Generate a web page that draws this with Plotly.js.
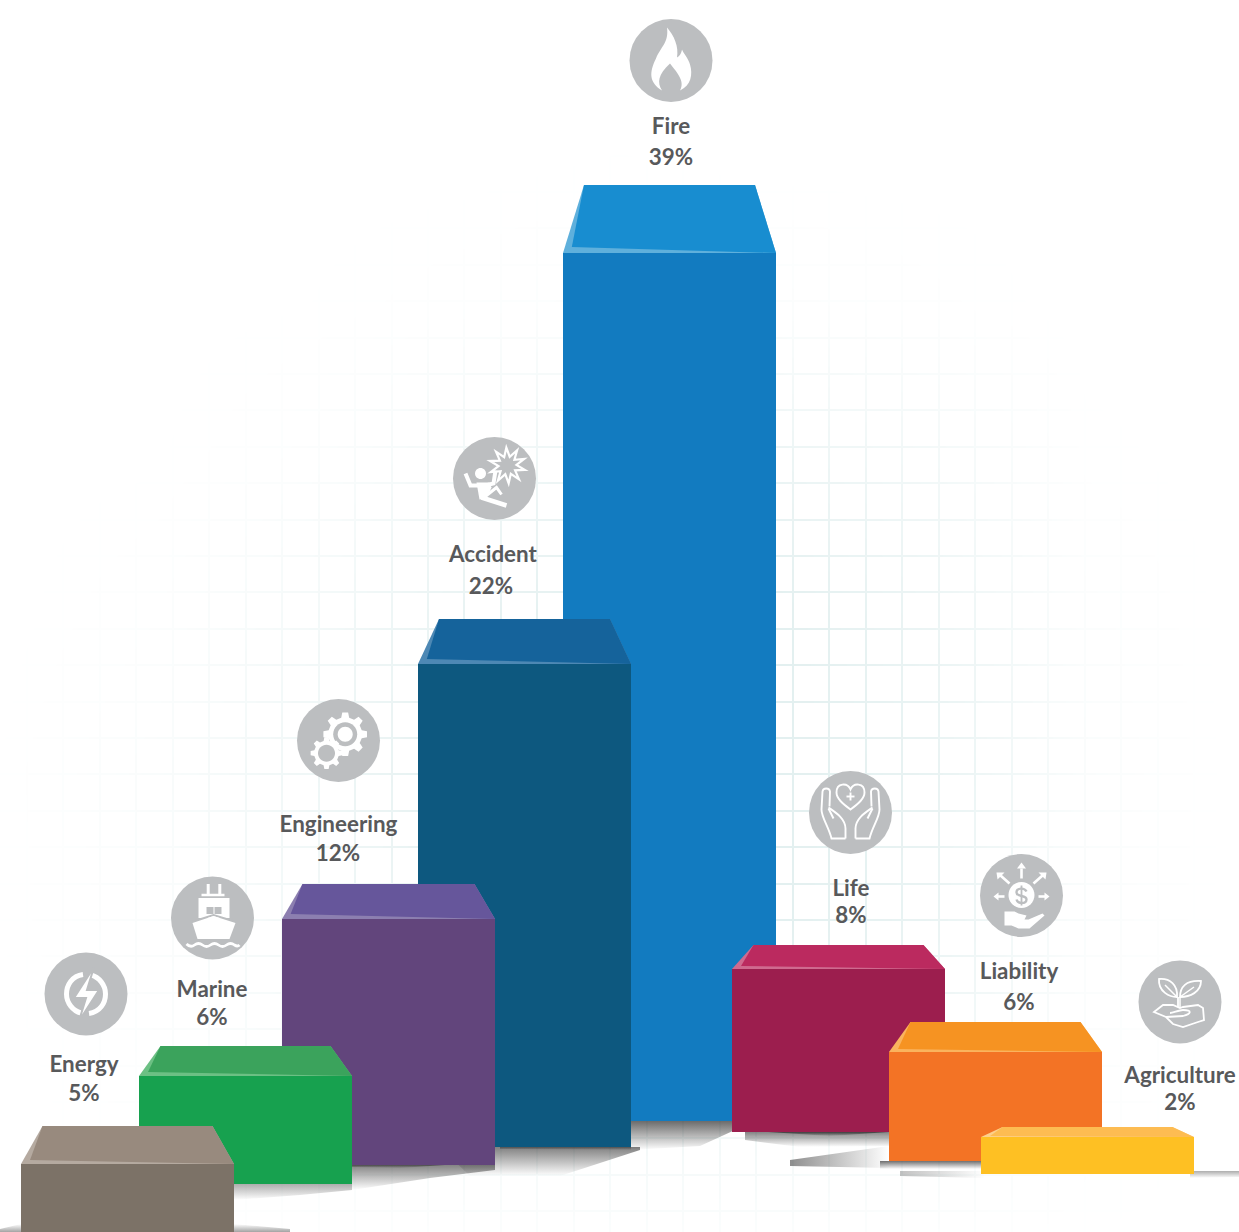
<!DOCTYPE html>
<html>
<head>
<meta charset="utf-8">
<script src="https://cdn.plot.ly/plotly-3.0.1.min.js"></script>
<style>html,body{margin:0;padding:0;background:#fff;overflow:hidden}#chart{width:1239px;height:1232px}</style>
</head>
<body>
<div id="chart"></div>
<script>
// ---- chart content ----
const categories = ['Fire','Accident','Engineering','Marine','Energy','Life','Liability','Agriculture'];
const shareLabels = ['39%','22%','12%','6%','5%','8%','6%','2%'];
// Bar front heights (reference pixels, the axis unit)
const barHeights = [868,483,246,108,92,163,109,37];

// ---- placement on the reference-pixel axes ----
const barCenters = [669.5,524.5,388.5,245.5,127.5,838.5,995.5,1087.5];
const barTops    = [253,664,919,1076,1164,969,1052,1137];
const barWidth   = 213;
const backTops   = [185,619,884,1046,1126,945,1022,1127];
const backInset  = [21,21,20.5,21.5,21.5,21.5,21.5,21.5];
const hlDrop     = [6,5,5,4,4,3,3,1];

// ---- styles ----
const frontColors = ['#127bc0','#0d587f','#62457c','#17a14f','#7c7267','#9c1e4e','#f37325','#fec023'];
const topColors   = ['#188dd0','#15639b','#66569b','#3ba35c','#988a7e','#bb2a5f','#f69322','#fdbc52'];
const hlColors    = ['#5fb0dc','#4d88b4','#8c7fb0','#6cc084','#b5aaa0','#cf6a8f','#fab35e','#fdd08a'];

const nameX = [671,493,338.5,212,84,851,1019,1180];
const nameY = [128,556,826,991,1066,890,973,1077];
const pctX  = [671,491,338,212,84,851,1019,1180];
const pctY  = [159,588,855,1019,1095,917,1004,1104];
const iconX = [671,494.5,338.5,212.5,86,850.5,1021.5,1180];
const iconY = [60.5,478.5,740.5,918,994,812.5,895.5,1002];

// White veil over the axis grid: 1 hides it, 0 shows it in full
const veilX = [0,155,310,465,620,775,930,1085,1239];
const veilY = [0,154,308,462,616,770,924,1078,1232];
const veilZ = [
 [1,1,1,1,1,1,1,1,1],
 [1,1,1,1,.97,1,1,1,1],
 [1,1,.97,.9,.85,.85,.92,1,1],
 [1,.98,.85,.55,.3,.3,.55,.95,1],
 [1,.88,.6,.2,0,0,.3,.85,1],
 [.97,.78,.45,.05,0,0,.2,.8,1],
 [.97,.82,.55,.15,0,0,.25,.82,1],
 [1,.9,.75,.5,.4,.4,.5,.88,1],
 [1,.98,.92,.88,.85,.85,.88,.97,1]
];

// Ground shadows: outline x, outline y, strength, gradient direction
const shadows = [
 {x:[631,735,735,700,631],y:[1121,1121,1130,1146,1150],a:.72,t:'vertical',rev:false},
 {x:[440,640,640,560,470],y:[1147,1147,1150,1176,1176],a:.62,t:'vertical',rev:false},
 {x:[352,495,495,430,352],y:[1165,1165,1170,1178,1190],a:.6,t:'vertical',rev:false},
 {x:[234,352,352,300,234],y:[1184,1184,1190,1195,1200],a:.4,t:'vertical',rev:false},
 {x:[745,889,889,800,745],y:[1132,1132,1146,1147,1140],a:.6,t:'vertical',rev:false},
 {x:[790,889,889,790],y:[1160,1146,1168,1166],a:.55,t:'horizontal',rev:true},
 {x:[880,985,985,880],y:[1161,1161,1169,1169],a:.7,t:'vertical',rev:false},
 {x:[1190,1239,1239,1190],y:[1171,1171,1177,1178],a:.4,t:'vertical',rev:false},
 {x:[900,985,985,900],y:[1171,1171,1178,1176],a:.3,t:'horizontal',rev:true},
 {x:[234,290,290,234],y:[1224,1229,1232,1232],a:.45,t:'vertical',rev:true},
 {x:[0,21,21,0],y:[1229,1224,1232,1232],a:.45,t:'vertical',rev:true},
 // thin contact lenses
 {x:[352,400,445,400,352],y:[1165,1165,1165,1168,1167],a:.7,t:'vertical',rev:false},
 {x:[768,830,889,830],y:[1132,1132,1132,1136],a:.85,t:'vertical',rev:false},
 {x:[500,631,631,500],y:[1147,1147,1150,1149],a:.6,t:'vertical',rev:false}
];

const traces = [];
traces.push({type:'heatmap',x:veilX,y:veilY,z:veilZ,zmin:0,zmax:1,zsmooth:'best',showscale:false,hoverinfo:'skip',
  colorscale:[[0,'rgba(255,255,255,0)'],[1,'rgba(255,255,255,1)']]});

shadows.forEach(s=>{
  const dark=`rgba(50,50,50,${s.a})`, clear='rgba(50,50,50,0)';
  traces.push({type:'scatter',mode:'lines',x:s.x.concat(s.x[0]),y:s.y.concat(s.y[0]),fill:'toself',
    line:{width:0,color:'rgba(0,0,0,0)'},hoverinfo:'skip',showlegend:false,zorder:1,
    fillgradient:{type:s.t,colorscale:s.rev?[[0,dark],[1,clear]]:[[0,clear],[1,dark]]}});
});

traces.push({type:'bar',x:barCenters,y:barHeights,base:barTops,width:barWidth,
  marker:{color:frontColors,line:{width:0}},text:categories,textposition:'none',hoverinfo:'skip',showlegend:false,zorder:2});

categories.forEach((c,i)=>{
  const l=barCenters[i]-barWidth/2, r=barCenters[i]+barWidth/2, t=barTops[i], b=backTops[i], d=backInset[i];
  traces.push({type:'scatter',mode:'lines',x:[l,l+d,r-d,r,l],y:[t,b,b,t,t],fill:'toself',fillcolor:hlColors[i],
    line:{width:0},hoverinfo:'skip',showlegend:false,zorder:3});
  traces.push({type:'scatter',mode:'lines',x:[l+d,r-d,r,l+d*.42,l+d],y:[b,b,t,t-hlDrop[i],b],fill:'toself',fillcolor:topColors[i],
    line:{width:0},hoverinfo:'skip',showlegend:false,zorder:3});
});

traces.push({type:'scatter',mode:'markers',x:iconX,y:iconY,marker:{size:83,color:'#bcbec0',line:{width:0}},
  hoverinfo:'skip',showlegend:false,zorder:4});
const labelFont={family:'Lato, Carlito, sans-serif',size:22.4,color:'#58595b',weight:700};
traces.push({type:'scatter',mode:'text',x:nameX,y:nameY,text:categories,textposition:'middle center',textfont:labelFont,
  hoverinfo:'skip',showlegend:false,zorder:4});
traces.push({type:'scatter',mode:'text',x:pctX,y:pctY,text:shareLabels,textposition:'middle center',textfont:labelFont,
  hoverinfo:'skip',showlegend:false,zorder:4});

// ---- icon drawing helpers (local coordinates around each badge centre) ----
const WHITE='#ffffff', GREY='#bcbec0';
function place(i,d,mirror){
  const cx=iconX[i], cy=iconY[i];
  let isX=true;
  return d.replace(/-?\d*\.?\d+/g,m=>{
    const v=parseFloat(m);
    const o=isX?(cx+(mirror?-v:v)):(cy+v);
    isX=!isX;
    return o.toFixed(2);
  });
}
function circ(x,y,r){const k=r*.5523;
  return `M${x-r},${y} C${x-r},${y-k} ${x-k},${y-r} ${x},${y-r} C${x+k},${y-r} ${x+r},${y-k} ${x+r},${y} C${x+r},${y+k} ${x+k},${y+r} ${x},${y+r} C${x-k},${y+r} ${x-r},${y+k} ${x-r},${y} Z`;}
function ring(x,y,ro,ri,n,rot){let s='';const pts=n*2;for(let k=0;k<pts;k++){const a=rot+k*Math.PI/n,r=k%2?ri:ro;
  s+=(k?'L':'M')+(x+r*Math.cos(a)).toFixed(2)+','+(y+r*Math.sin(a)).toFixed(2)+' ';}return s+'Z';}
function gear(x,y,ro,ri,n){let s='';const st=2*Math.PI/n;for(let k=0;k<n;k++){const a=k*st;
  [[-.30,ri],[-.17,ro],[.17,ro],[.30,ri]].forEach((p,j)=>{const b=a+p[0]*st;
    s+=((k===0&&j===0)?'M':'L')+(x+p[1]*Math.cos(b)).toFixed(2)+','+(y+p[1]*Math.sin(b)).toFixed(2)+' ';});}
  return s+'Z';}
const shapes=[];
function fillS(i,d,c,mirror){shapes.push({type:'path',xref:'x',yref:'y',layer:'above',path:place(i,d,mirror),fillcolor:c||WHITE,line:{width:0}});}
function strokeS(i,d,w,c,mirror){shapes.push({type:'path',xref:'x',yref:'y',layer:'above',path:place(i,d,mirror),fillcolor:'rgba(0,0,0,0)',line:{width:w,color:c||WHITE}});}

// Fire
fillS(0,'M-4,-33 C-2,-18 -10,-14 -15,-2 C-22,12 -22,22 -9,30 C-14,22 -13,14 -1,3 C4,10 15,20 9,30 C20,25 22,14 19,4 C17,-3 13,-6 11,-11 C10,-6 8,-4 6,-3 C8,-14 3,-25 -4,-33 Z');
// Accident
strokeS(1,ring(13,-13,18,9,10,.25),2.2);
fillS(1,circ(-14,-5,5.5));
strokeS(1,'M-29,-5 L-24,7 L-15,7',4);
strokeS(1,'M1,-8 L-1,5 L-9,7',4);
fillS(1,'M-18,4 L-5,4 L-3,9 L-8,20 L-15,21 Z');
strokeS(1,'M-13,19 L12,27',4.5);
strokeS(1,'M-8,17 L2,9 L7,16',3);
// Engineering
fillS(2,gear(6.7,-6.3,22,17,8));
fillS(2,circ(6.7,-6.3,12),GREY);
fillS(2,circ(6.7,-6.3,7.5));
fillS(2,gear(-12,12.7,16,12.5,8));
fillS(2,circ(-12,12.7,8.5),GREY);
// Marine
strokeS(3,'M-4.3,-34 L-4.3,-23',3);
strokeS(3,'M7.3,-34 L7.3,-23',3);
strokeS(3,'M-11,-23 L12,-23',2.5);
fillS(3,'M-14,-20 L17,-20 L17,0 L-14,0 Z');
fillS(3,'M-6,-11 L1,-11 L1,-4 L-6,-4 Z',GREY);
fillS(3,'M2,-11 L9,-11 L9,-4 L2,-4 Z',GREY);
strokeS(3,'M-21,4 L1,-3 L24,4',2,GREY);
fillS(3,'M-20,5 L1,-2 L23,5 L17,21 L-15,21 Z');
strokeS(3,'M-26,26 Q-22,30 -18,27 Q-14,24 -10,27 Q-6,30 -2,27 Q2,24 6,27 Q10,30 14,27 Q18,24 22,27 Q25,29 27,27',2.8);
// Energy
strokeS(4,'M-3,-19.5 C-14,-18 -19.5,-9 -19.5,0 C-19.5,9 -13,17 -5,19',5);
strokeS(4,'M5,-19 C13,-17 19.5,-9 19.5,0 C19.5,9 14,18 3,19.5',5);
shapes.push({type:'path',xref:'x',yref:'y',layer:'above',path:place(4,'M8,-27 L-12,4 L0,4 L-7,27 L13,-4 L1,-4 Z'),fillcolor:WHITE,line:{width:2,color:GREY}});
// Life
strokeS(5,'M0,-3 C-8,-9 -14,-14 -14,-20 C-14,-30 -3,-30 0,-23 C3,-30 14,-30 14,-20 C14,-14 8,-9 0,-3 Z',1.9);
strokeS(5,'M-4,-16 L4,-16',1.9);
strokeS(5,'M0,-20 L0,-12',1.9);
[false,true].forEach(m=>{
  strokeS(5,'M-5,26 L-19,26 C-22,14 -29,5 -29,-3 L-28,-21 C-27.5,-25 -21,-25 -20.5,-21 L-21,-6',1.9,WHITE,m);
  strokeS(5,'M-22,-5 C-15,0 -5,6 -5,16 L-5,26',1.9,WHITE,m);
  strokeS(5,'M-22,-4 L-17,6',1.9,WHITE,m);
});
// Liability
fillS(6,circ(0,-0.5,13));
strokeS(6,'M5,-4 C3,-8 -5,-8 -5,-3 C-5,2 5,-1 5,4 C5,9 -4,8 -5,4',2.4,GREY);
strokeS(6,'M0,-10 L0,10',1.8,GREY);
strokeS(6,'M0,-17 L0,-27',2.6);
fillS(6,'M-4.5,-27 L0,-33 L4.5,-27 Z');
strokeS(6,'M-12,-12 L-21,-20',2.6);
fillS(6,'M-25,-23 L-17,-23 L-24,-16 Z');
strokeS(6,'M12,-12 L21,-20',2.6);
fillS(6,'M25,-23 L17,-23 L24,-16 Z');
strokeS(6,'M-17,1 L-24,1',2.6);
fillS(6,'M-23,-3 L-28,1 L-23,5 Z');
strokeS(6,'M17,1 L24,1',2.6);
fillS(6,'M23,-3 L28,1 L23,5 Z');
fillS(6,'M-17,16 L-7,16 L-3,18 L5,20 L3,24 L-2,24 L7,24 L21,18 L23,20 L8,33 L-3,33 L-10,30 L-17,30 Z');
// Agriculture
strokeS(7,'M-3,-5 C-10,-5 -22,-10 -21,-23 C-10,-24 -2,-17 -3,-5 Z',1.8);
strokeS(7,'M0,-5 C0,-15 6,-22 21,-21 C21,-10 10,-5 0,-5 Z',1.8);
strokeS(7,'M-15,-17 L-3,-5',1.5);
strokeS(7,'M14,-15 L0,-5',1.5);
strokeS(7,'M-2,-5 L-2,5',1.8);
strokeS(7,'M0,-5 L0,5',1.5);
strokeS(7,'M-26,10 L-17,3 L-7,3 L0,6 L3,5 L18,3 L23,6 L24,18 L18,20 L3,25 L-7,22 L-14,15 L-26,10 Z',1.8);
strokeS(7,'M-14,15 L3,14 C11,12 13,8 3,8 C-1,8 -7,11 -10,11',1.8);

const layout={
  width:1239,height:1232,margin:{l:0,r:0,t:0,b:0,pad:0},
  paper_bgcolor:'#ffffff',plot_bgcolor:'#ffffff',showlegend:false,barmode:'overlay',
  xaxis:{range:[0,1239],tick0:428,dtick:36.48,showgrid:true,gridcolor:'#e3f0f0',gridwidth:2,zeroline:false,showline:false,showticklabels:false,ticks:'',fixedrange:true},
  yaxis:{range:[1232,0],tick0:446.7,dtick:36.4,showgrid:true,gridcolor:'#e3f0f0',gridwidth:2,zeroline:false,showline:false,showticklabels:false,ticks:'',fixedrange:true},
  shapes:shapes
};
Plotly.newPlot('chart',traces,layout,{displayModeBar:false,staticPlot:true});
</script>
</body>
</html>
